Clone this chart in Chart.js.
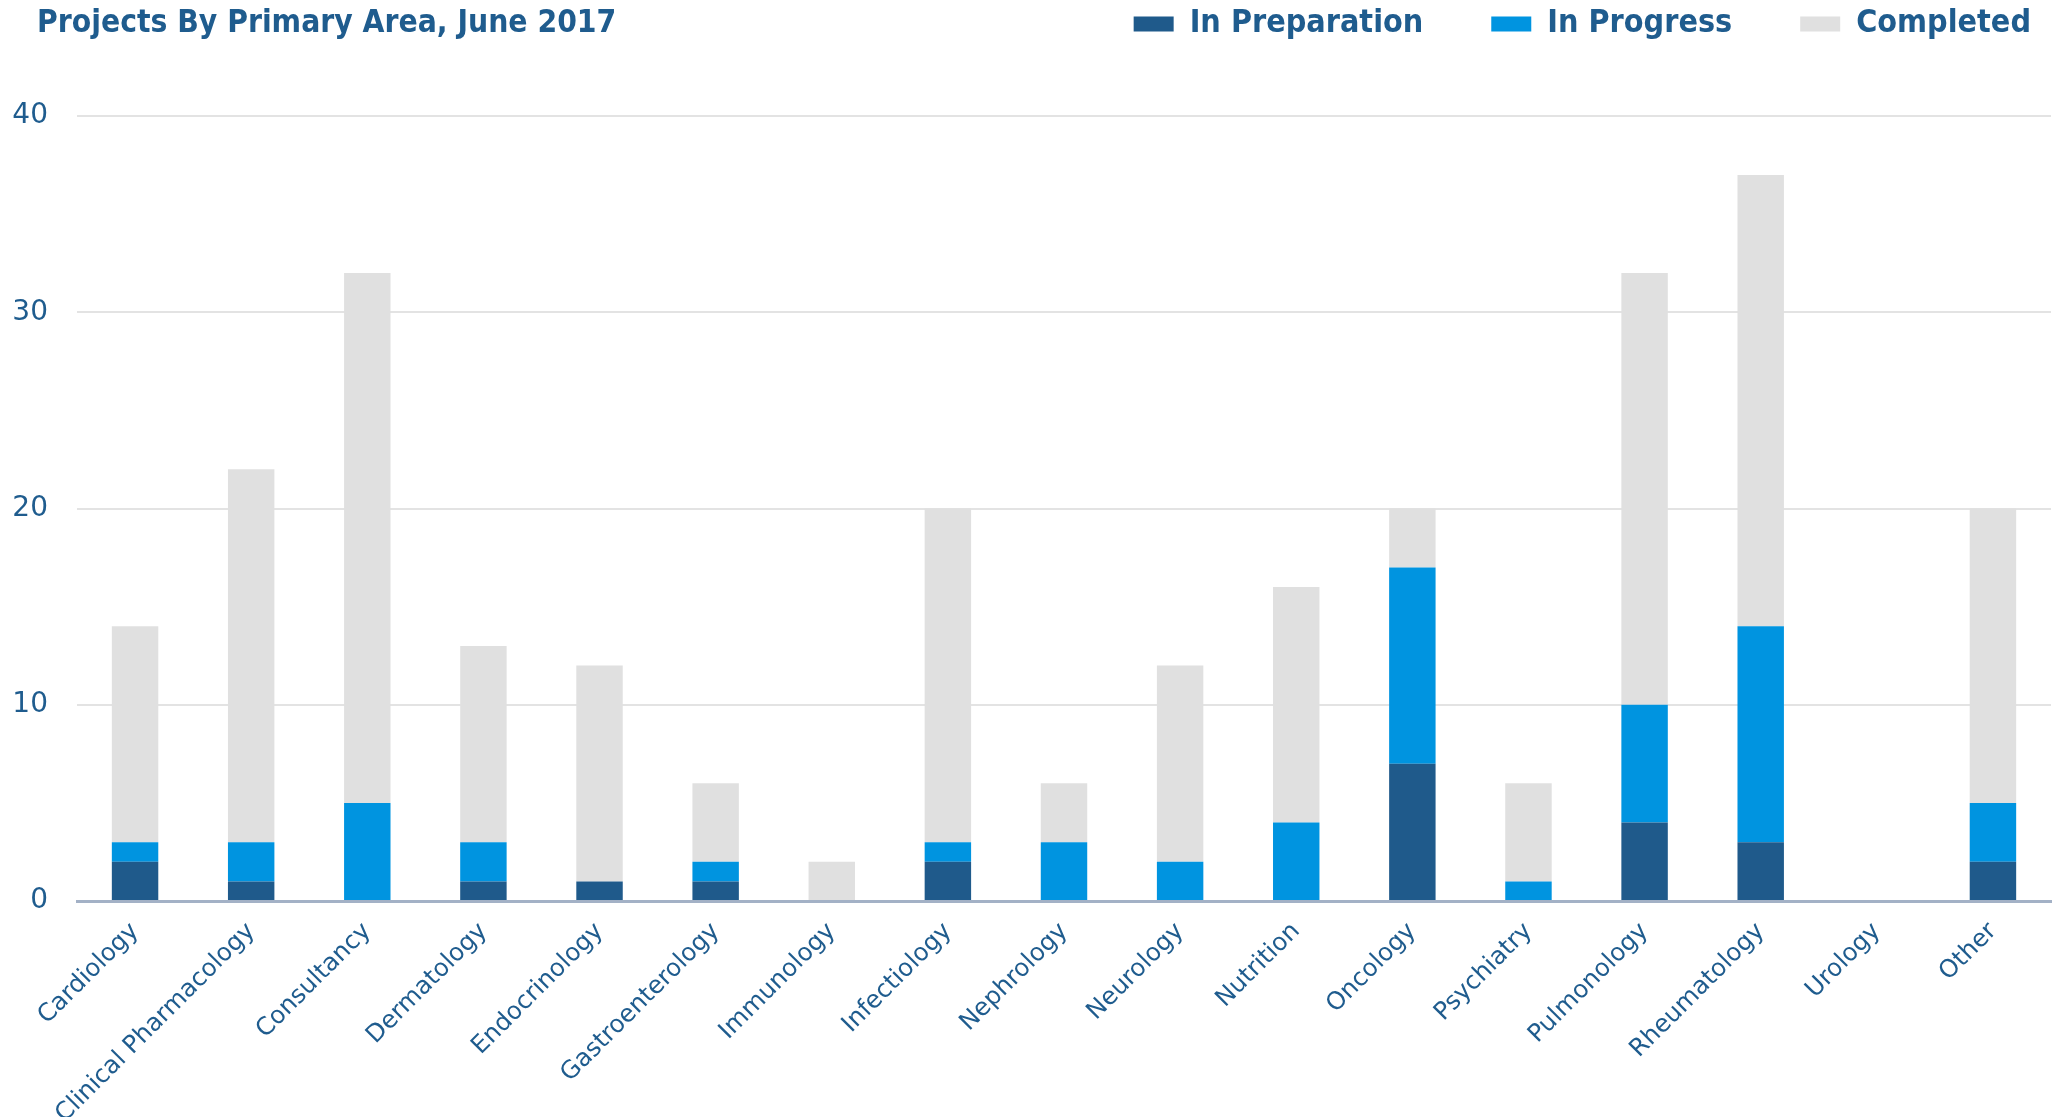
<!DOCTYPE html>
<html>
<head>
<meta charset="utf-8">
<script src="https://cdn.jsdelivr.net/npm/chart.js@4.4.1/dist/chart.umd.min.js"></script>
<style>
  html, body { margin: 0; padding: 0; background: #fff; }
  #wrap { position: relative; width: 2064px; height: 1117px; }
  #title {
    position: absolute; left: 37px; top: 6px;
    font: bold 31.5px 'DejaVu Sans Condensed', 'DejaVu Sans', sans-serif;
    line-height: 31px; color: #1F5C8E; white-space: nowrap;
  }
</style>
</head>
<body>
<div id="wrap">
  <canvas id="areaChart" width="2064" height="1117"></canvas>
  <div id="title">Projects By Primary Area, June 2017</div>
</div>
<script>
// Dados
const areas = ['Cardiology', 'Clinical Pharmacology', 'Consultancy', 'Dermatology', 'Endocrinology',
    'Gastroenterology', 'Immunology', 'Infectiology', 'Nephrology', 'Neurology', 'Nutrition',
    'Oncology', 'Psychiatry', 'Pulmonology', 'Rheumatology', 'Urology', 'Other'];
const inPreparation = [2, 1, 0, 1, 1, 1, 0, 2, 0, 0, 0, 7, 0, 4, 3, 0, 2];
const inProgress    = [1, 2, 5, 2, 0, 1, 0, 1, 3, 2, 4, 10, 1, 6, 11, 0, 3];
const completed     = [11, 19, 27, 10, 11, 4, 2, 17, 3, 10, 12, 3, 5, 22, 23, 0, 15];
const yTicks = [0, 10, 20, 30, 40];

const textColor = '#1F5C8E';

// Legenda na mesma linha do título: altura fixa e deslocamento para a direita
const legendFix = {
    id: 'legendFix',
    beforeLayout(chart) {
        const legend = chart.legend;
        if (legend && !legend._patched) {
            const fit = legend.fit;
            legend.fit = function () {
                fit.call(this);
                this.height = 176;
            };
            const draw = legend.draw;
            legend.draw = function () {
                this.ctx.save();
                this.ctx.translate(48, 0);
                draw.call(this);
                this.ctx.restore();
            };
            legend._patched = true;
        }
    }
};

const ctx = document.getElementById('areaChart').getContext('2d');

new Chart(ctx, {
    type: 'bar',
    data: {
        labels: areas,
        datasets: [
            { label: 'In Preparation', data: inPreparation, backgroundColor: '#1F5A8B' },
            { label: 'In Progress', data: inProgress, backgroundColor: '#0094E0' },
            { label: 'Completed', data: completed, backgroundColor: '#E0E0E0' }
        ]
    },
    options: {
        responsive: false,
        animation: false,
        devicePixelRatio: 1,
        layout: { padding: { top: -60, left: 12, right: 13, bottom: 0 } },
        datasets: { bar: { barPercentage: 0.4, categoryPercentage: 1.0, borderWidth: 0 } },
        plugins: {
            title: { display: false },
            tooltip: { enabled: false },
            legend: {
                position: 'top',
                align: 'end',
                labels: {
                    boxWidth: 40,
                    boxHeight: 15,
                    padding: 68,
                    color: textColor,
                    font: { family: "'DejaVu Sans Condensed', 'DejaVu Sans', sans-serif", size: 32, weight: 'bold' }
                }
            }
        },
        scales: {
            x: {
                stacked: true,
                grid: { display: false, drawTicks: false },
                border: { display: true, color: '#A3B1C6', width: 3 },
                ticks: {
                    color: textColor,
                    minRotation: 45,
                    maxRotation: 45,
                    autoSkip: false,
                    padding: 16,
                    font: { family: "'DejaVu Sans', sans-serif", size: 24.5 }
                },
                afterFit(scale) { scale.height = 216; }
            },
            y: {
                stacked: true,
                min: yTicks[0],
                max: yTicks[yTicks.length - 1],
                grid: { color: '#E3E3E3', lineWidth: 2, drawTicks: false },
                border: { display: false },
                afterBuildTicks(scale) { scale.ticks = yTicks.map(v => ({ value: v })); },
                afterFit(scale) { scale.width = 65; },
                ticks: {
                    color: textColor,
                    padding: 29,
                    font: { family: "'DejaVu Sans', sans-serif", size: 28 }
                }
            }
        }
    },
    plugins: [legendFix]
});
</script>
</body>
</html>
